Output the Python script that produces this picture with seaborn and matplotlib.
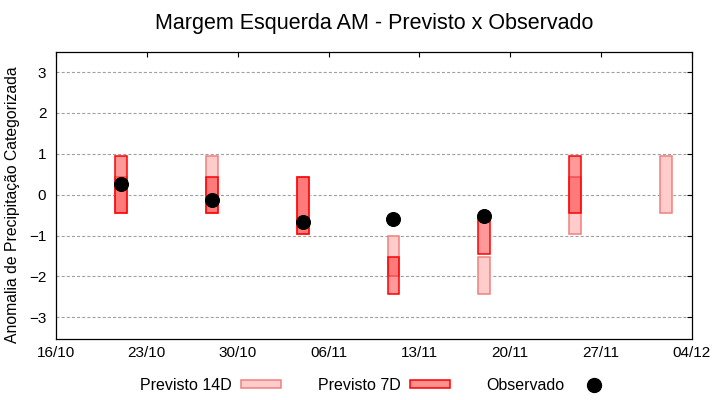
import numpy as np
import pandas as pd
import matplotlib
matplotlib.use("Agg")
import matplotlib.pyplot as plt
import matplotlib.dates as mdates
from matplotlib.patches import Patch
from matplotlib.lines import Line2D
import seaborn as sns

# semanas previstas (centro da barra)
datas = ["21/10/2024", "28/10/2024", "04/11/2024", "11/11/2024",
         "18/11/2024", "25/11/2024", "02/12/2024"]
# faixa prevista com 14 dias de antecedencia
p14_min = [-0.44, -0.44, -0.95, -1.98, -2.44, -0.95, -0.44]
p14_max = [0.44, 0.95, 0.44, -1.0, -1.52, 0.44, 0.95]
# faixa prevista com 7 dias de antecedencia
p7_min = [-0.44, -0.44, -0.95, -2.44, -1.44, -0.44, np.nan]
p7_max = [0.95, 0.44, 0.44, -1.52, -0.55, 0.95, np.nan]
# anomalia observada
observado = [0.27, -0.12, -0.68, -0.59, -0.51, np.nan, np.nan]

xticks = ["16/10/2024", "23/10/2024", "30/10/2024", "06/11/2024",
          "13/11/2024", "20/11/2024", "27/11/2024", "04/12/2024"]

df = pd.DataFrame({
    "data": pd.to_datetime(datas, dayfirst=True),
    "p14_min": p14_min, "p14_max": p14_max,
    "p7_min": p7_min, "p7_max": p7_max,
    "obs": observado,
})
ticks = pd.to_datetime(xticks, dayfirst=True)

sns.set_style("white")
plt.rcParams["font.family"] = ["Liberation Sans", "DejaVu Sans"]
plt.rcParams["lines.scale_dashes"] = False
plt.rcParams["text.color"] = "black"
plt.rcParams["axes.labelcolor"] = "black"

fig = plt.figure(figsize=(7.2, 4), dpi=100)
ax = fig.add_axes([0.0778, 0.1525, 0.8833, 0.7185])

cor14 = (1, 0, 0, 0.2)
cor7 = (1, 0, 0, 0.4)
larg = 0.92

# fundo branco para esconder a grade atras das barras
ax.bar(df["data"], df["p14_max"] - df["p14_min"], bottom=df["p14_min"],
       width=larg, color="white", zorder=2)
ax.bar(df["data"], df["p7_max"] - df["p7_min"], bottom=df["p7_min"],
       width=larg, color="white", zorder=2)
ax.bar(df["data"], df["p14_max"] - df["p14_min"], bottom=df["p14_min"],
       width=larg, facecolor=cor14, edgecolor="#f08080", linewidth=1.1, zorder=3)
ax.bar(df["data"], df["p7_max"] - df["p7_min"], bottom=df["p7_min"],
       width=larg, facecolor=cor7, edgecolor="red", linewidth=1.1, zorder=4)

sns.scatterplot(data=df.dropna(subset=["obs"]), x="data", y="obs", ax=ax,
                color="black", s=100, edgecolor="black", zorder=5, legend=False)

ax.set_xlim(ticks[0], ticks[-1])
ax.set_ylim(-3.53, 3.5)
ax.set_yticks(range(-3, 4))
ax.set_xticks(ticks)
ax.xaxis.set_major_formatter(mdates.DateFormatter("%d/%m"))
ax.yaxis.grid(True, color="#a0a0a0", linestyle=(0, (2.2, 1.5)), linewidth=0.8)
ax.xaxis.grid(False)
ax.set_axisbelow(True)

for s in ax.spines.values():
    s.set_color("black")
    s.set_linewidth(0.9)
ax.tick_params(axis="both", direction="in", top=True, right=True,
               length=3.5, width=0.8, labelsize=11, colors="black")
ax.tick_params(axis="x", pad=5)
ax.tick_params(axis="y", pad=7)

ax.set_xlabel("")
ax.set_ylabel("Anomalia de Precipitação Categorizada", fontsize=11.3)
ax.yaxis.set_label_coords(-0.057, 0.466)
ax.set_title("Margem Esquerda AM - Previsto x Observado", fontsize=15.5,
             pad=16, color="black")

handles = [
    Patch(facecolor="#ffcccc", edgecolor="#f08080", linewidth=1.1),
    Patch(facecolor="#ff9090", edgecolor="red", linewidth=1.1),
    Line2D([], [], marker="o", color="black", linestyle="none", markersize=10),
]
fig.legend(handles, ["Previsto 14D", "Previsto 7D", "Observado"],
           loc="center", bbox_to_anchor=(377 / 720, 0.0375), ncol=3,
           frameon=False, markerfirst=False, fontsize=11.5,
           handlelength=2.5, handleheight=0.45, handletextpad=0.6,
           columnspacing=2.3)

fig.savefig("out.png", dpi=100)
